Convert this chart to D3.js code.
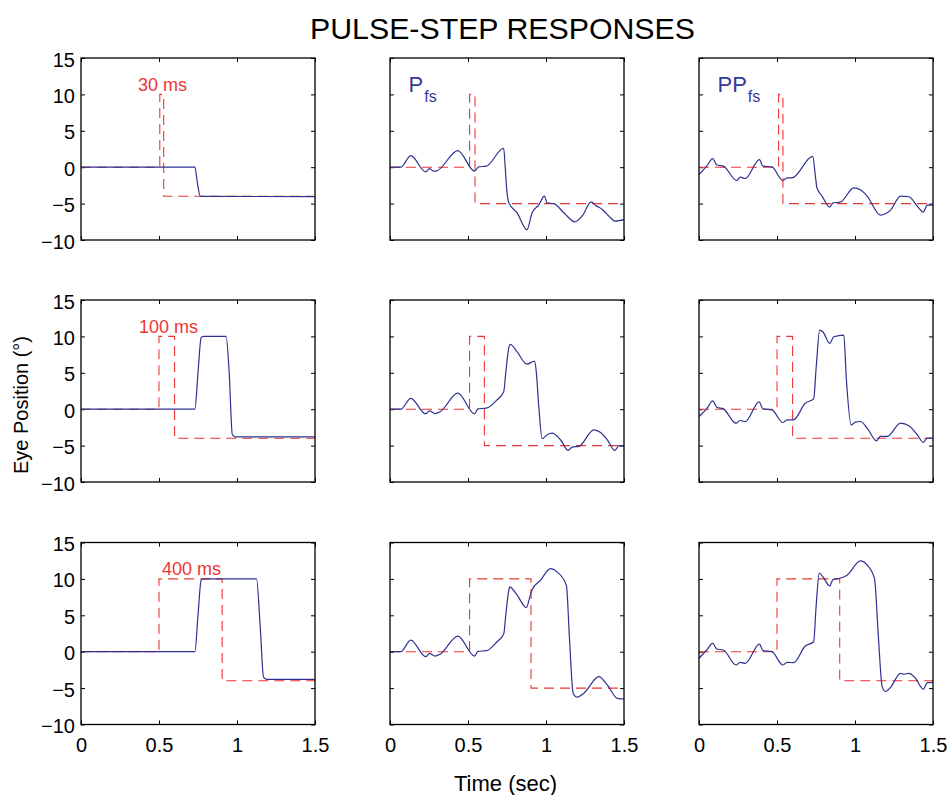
<!DOCTYPE html>
<html>
<head>
<meta charset="utf-8">
<script src="https://cdn.jsdelivr.net/npm/d3@7"></script>
<style>
  body { margin: 0; background: #fff; }
  text { font-family: "Liberation Sans", Arial, Helvetica, sans-serif; }
</style>
</head>
<body>
<div id="chart"></div>
<script>
// axis ticks
const timeTicks = [0, 0.5, 1, 1.5];
const posTicks = [-10, -5, 0, 5, 10, 15];

const pulseLabels = ["30 ms", "100 ms", "400 ms"];
const columnLabels = ["", "P", "PP"];
const columnSubs = ["", "fs", "fs"];

// pulse-step inputs (time sec, position deg), one per row/column
const inputR1C1 = [[0, 0], [0.505, 0], [0.505, 10], [0.53, 10], [0.53, -4], [1.5, -4]];
const inputR1C2 = [[0, 0], [0.51, 0], [0.51, 10], [0.545, 10], [0.545, -5], [1.5, -5]];
const inputR1C3 = [[0, 0], [0.51, 0], [0.51, 10], [0.538, 10], [0.538, -5], [1.5, -5]];
const inputR2C1 = [[0, 0], [0.5, 0], [0.5, 10], [0.6, 10], [0.6, -4], [1.5, -4]];
const inputR2C2 = [[0, 0], [0.51, 0], [0.51, 10], [0.605, 10], [0.605, -5], [1.5, -5]];
const inputR2C3 = [[0, 0], [0.5, 0], [0.5, 10], [0.6, 10], [0.6, -4], [1.5, -4]];
const inputR3C1 = [[0, 0], [0.5, 0], [0.5, 10], [0.905, 10], [0.905, -4], [1.5, -4]];
const inputR3C2 = [[0, 0], [0.51, 0], [0.51, 10], [0.904, 10], [0.904, -5], [1.5, -5]];
const inputR3C3 = [[0, 0], [0.5, 0], [0.5, 10], [0.902, 10], [0.902, -4], [1.5, -4]];

// eye position responses
const respR1C1 = [[0, 0], [0.73, 0], [0.745, -2], [0.765, -4], [1.5, -4.05]];
const respR2C1 = [[0, 0], [0.73, 0], [0.75, 5], [0.77, 9.8], [0.785, 10], [0.93, 10], [0.95, 5], [0.97, -3.5], [0.99, -3.8], [1.5, -3.8]];
const respR3C1 = [[0, 0], [0.73, 0], [0.75, 5], [0.77, 9.8], [0.785, 10], [1.125, 10], [1.15, 3], [1.17, -3.5], [1.19, -3.8], [1.5, -3.8]];

const respR1C2 = [[0, 0], [0.069, 0], [0.133, 1.6], [0.229, -0.64], [0.253, -0.2], [0.279, -0.55], [0.3, -0.5],
  [0.435, 2.28], [0.542, -0.55], [0.568, 0.05], [0.617, 0.14], [0.729, 2.6], [0.737, 0.5], [0.748, -3],
  [0.762, -4.9], [0.814, -6.25], [0.878, -8.6], [0.911, -6.25], [0.953, -5.2], [0.99, -3.97], [1.007, -4.9],
  [1.05, -5.0], [1.114, -6.25], [1.185, -7.5], [1.232, -6.7], [1.29, -4.75], [1.318, -5.25], [1.361, -5.8],
  [1.414, -6.94], [1.442, -7.4], [1.5, -7.2]];
const respR2C2 = [[0, 0], [0.069, 0], [0.133, 1.5], [0.229, -0.64], [0.253, -0.23], [0.289, -0.6], [0.321, -0.35],
  [0.435, 2.2], [0.542, -0.64], [0.564, 0.05], [0.617, 0.14], [0.686, 1.28], [0.729, 2.4], [0.742, 5],
  [0.762, 8.5], [0.771, 8.9], [0.814, 7.9], [0.878, 6.2], [0.926, 6.6], [0.936, 5.5], [0.955, 0], [0.975, -4.06],
  [1.007, -3.5], [1.039, -3.3], [1.093, -4.2], [1.142, -5.66], [1.168, -5.2], [1.211, -5.1], [1.307, -2.83],
  [1.35, -3.2], [1.393, -4.2], [1.442, -5.66], [1.468, -5.0], [1.5, -5.0]];
const respR3C2 = [[0, 0], [0.069, 0], [0.133, 1.6], [0.229, -0.68], [0.253, -0.23], [0.289, -0.6], [0.321, -0.35],
  [0.435, 2.15], [0.542, -0.6], [0.564, 0.05], [0.617, 0.14], [0.686, 1.37], [0.729, 2.42], [0.742, 5],
  [0.762, 8.5], [0.767, 8.9], [0.814, 7.8], [0.874, 6.07], [0.896, 7.5], [0.911, 8.5], [0.964, 9.8],
  [1.029, 11.4], [1.071, 10.96], [1.131, 9.1], [1.15, 2], [1.174, -5.7], [1.2, -6.25], [1.243, -5.7],
  [1.339, -3.42], [1.393, -4.57], [1.457, -6.4], [1.5, -6.5]];

const respR1C3 = [[0, -1.0], [0.049, 0.14], [0.088, 1.19], [0.114, 0.3], [0.156, 0.14], [0.242, -1.83], [0.264, -1.37],
  [0.296, -1.55], [0.388, 1.05], [0.409, 0.14], [0.467, 0.05], [0.538, -1.83], [0.564, -1.46], [0.596, -1.46],
  [0.729, 1.5], [0.745, -1], [0.756, -2.83], [0.789, -3.97], [0.838, -5.48], [0.859, -4.9], [0.906, -4.8],
  [0.992, -2.83], [1.039, -3.15], [1.078, -3.97], [1.163, -6.58], [1.228, -5.9], [1.292, -3.97], [1.346, -4.06],
  [1.399, -5.34], [1.438, -6.16], [1.463, -5.2], [1.5, -5.2]];
const respR2C3 = [[0, -1.0], [0.049, 0.05], [0.088, 1.14], [0.114, 0.27], [0.156, 0.05], [0.238, -1.92], [0.264, -1.55],
  [0.296, -1.7], [0.386, 1.0], [0.409, 0.05], [0.467, -0.1], [0.538, -1.83], [0.564, -1.46], [0.606, -1.46],
  [0.681, 0.82], [0.735, 1.42], [0.752, 6], [0.774, 10.87], [0.795, 10.6], [0.838, 9.04], [0.864, 9.95],
  [0.928, 10.18], [0.945, 4], [0.975, -2.15], [1.003, -1.78], [1.035, -1.69], [1.078, -2.6], [1.138, -4.34],
  [1.163, -3.74], [1.206, -3.74], [1.292, -1.92], [1.346, -2.28], [1.399, -3.5], [1.438, -4.57], [1.463, -3.97],
  [1.5, -3.97]];
const respR3C3 = [[0, -0.9], [0.049, 0.23], [0.088, 1.14], [0.114, 0.37], [0.156, 0.23], [0.238, -1.83], [0.264, -1.46],
  [0.296, -1.6], [0.388, 1.05], [0.409, 0.14], [0.467, 0], [0.538, -1.83], [0.564, -1.46], [0.606, -1.5],
  [0.681, 0.78], [0.735, 1.37], [0.75, 6], [0.771, 10.8], [0.795, 10.27], [0.838, 9.04], [0.859, 9.9],
  [0.896, 10.05], [0.949, 10.5], [1.035, 12.47], [1.078, 11.9], [1.125, 10.05], [1.15, 2], [1.174, -4.8],
  [1.196, -5.48], [1.228, -4.9], [1.292, -2.97], [1.313, -3.1], [1.346, -2.97], [1.388, -3.65], [1.438, -5.16],
  [1.463, -4.25], [1.5, -4.2]];

const inputs = [[inputR1C1, inputR1C2, inputR1C3], [inputR2C1, inputR2C2, inputR2C3], [inputR3C1, inputR3C2, inputR3C3]];
const responses = [[respR1C1, respR1C2, respR1C3], [respR2C1, respR2C2, respR2C3], [respR3C1, respR3C2, respR3C3]];

const W = 949, H = 795;
const panelW = 234, panelH = 182;
const lefts = [81, 390, 699];
const tops = [58, 300, 542.5];

const svg = d3.select("#chart").append("svg")
    .attr("width", W)
    .attr("height", H);

const x = d3.scaleLinear().domain([0, 1.5]).range([0, panelW]);
const y = d3.scaleLinear().domain([-10, 15]).range([panelH, 0]);

const line = d3.line()
    .x(d => x(d[0]))
    .y(d => y(d[1]));
const smooth = d3.line()
    .x(d => x(d[0]))
    .y(d => y(d[1]))
    .curve(d3.curveMonotoneX);

svg.append("text")
    .attr("x", 502.5)
    .attr("y", 38.5)
    .attr("text-anchor", "middle")
    .style("font-size", "30.3px")
    .text("PULSE-STEP RESPONSES");

for (let r = 0; r < 3; r++) {
    for (let c = 0; c < 3; c++) {
        const g = svg.append("g")
            .attr("transform", `translate(${lefts[c]}, ${tops[r]})`);

        // inner ticks on all four sides
        const left = g.append("g")
            .call(d3.axisLeft(y).tickValues(posTicks).tickSizeInner(-4).tickSizeOuter(0).tickPadding(6)
                .tickFormat(c === 0 ? d3.format("d") : ""));
        g.append("g")
            .attr("transform", `translate(${panelW}, 0)`)
            .call(d3.axisRight(y).tickValues(posTicks).tickSizeInner(-4).tickSizeOuter(0).tickFormat(""));
        const bottom = g.append("g")
            .attr("transform", `translate(0, ${panelH})`)
            .call(d3.axisBottom(x).tickValues(timeTicks).tickSizeInner(-4).tickSizeOuter(0).tickPadding(13)
                .tickFormat(r === 2 ? d3.format("") : ""));
        g.append("g")
            .call(d3.axisTop(x).tickValues(timeTicks).tickSizeInner(-4).tickSizeOuter(0).tickFormat(""));

        g.selectAll(".domain").remove();
        g.selectAll(".tick line").attr("stroke", "#000");
        left.selectAll("text").style("font-size", "20px").attr("dy", "0.4em").attr("fill", "#000");
        bottom.selectAll("text").style("font-size", "20px").attr("fill", "#000");

        g.append("path")
            .datum(inputs[r][c])
            .attr("d", line)
            .style("fill", "none")
            .style("stroke", "#ee3535")
            .style("stroke-width", 1.1)
            .style("stroke-dasharray", "10,6");

        g.append("path")
            .datum(responses[r][c])
            .attr("d", smooth)
            .style("fill", "none")
            .style("stroke", "#2e3190")
            .style("stroke-width", 1.2);

        g.append("rect")
            .attr("width", panelW)
            .attr("height", panelH)
            .style("fill", "none")
            .style("stroke", "#000")
            .style("stroke-width", 1.3);

        if (c === 0) {
            const lx = [57, 58, 81];
            g.append("text")
                .attr("x", lx[r])
                .attr("y", 32.5)
                .style("font-size", "18px")
                .style("fill", "#ee3535")
                .text(pulseLabels[r]);
        }
        if (r === 0 && c > 0) {
            const t = g.append("text")
                .attr("x", 18.5)
                .attr("y", 33.5)
                .style("fill", "#353a98");
            t.append("tspan").style("font-size", "22px").text(columnLabels[c]);
            t.append("tspan").attr("dy", 10.5).attr("dx", 1).style("font-size", "16px").text(columnSubs[c]);
        }
    }
}

svg.append("text")
    .attr("transform", "translate(28, 405) rotate(-90)")
    .attr("text-anchor", "middle")
    .style("font-size", "20px")
    .text("Eye Position (°)");

svg.append("text")
    .attr("x", 505.5)
    .attr("y", 791)
    .attr("text-anchor", "middle")
    .style("font-size", "22px")
    .text("Time (sec)");
</script>
</body>
</html>
